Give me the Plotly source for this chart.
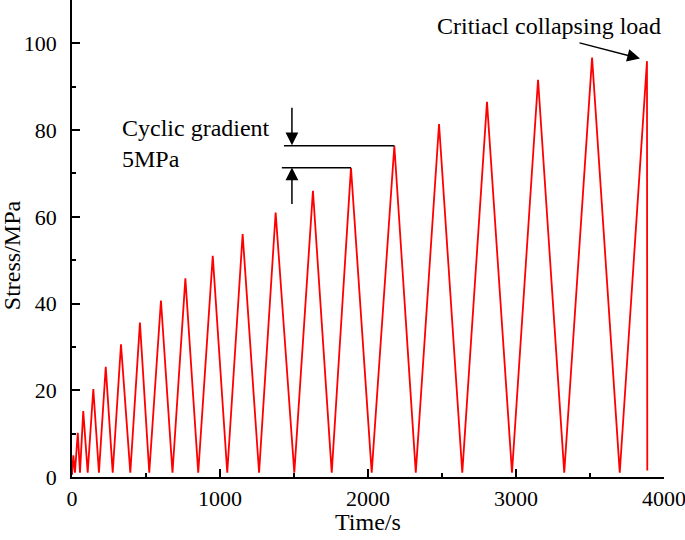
import plotly.graph_objects as go

# Cyclic loading record (time in s, stress in MPa)
times = [0, 9, 20, 39, 54, 76, 106, 144, 182, 228, 275, 331, 394, 459, 522, 601,
         679, 766, 853, 951, 1049, 1153, 1264, 1376, 1502, 1628, 1755, 1885, 2025,
         2178, 2323, 2480, 2637, 2804, 2973, 3149, 3326, 3514, 3701, 3885, 3887]
stress = [0.5, 5.0, 1.0, 10.2, 1.0, 15.2, 1.0, 20.3, 1.0, 25.4, 1.0, 30.6, 1.0,
          35.6, 1.0, 40.7, 1.0, 45.8, 1.0, 51.0, 1.0, 56.0, 1.0, 61.0, 1.0, 66.0,
          1.0, 71.3, 1.0, 76.4, 1.0, 81.4, 1.0, 86.5, 1.0, 91.6, 1.0, 96.7, 1.0,
          95.9, 1.5]

x_ticks = [0, 1000, 2000, 3000, 4000]
y_ticks = [0, 20, 40, 60, 80, 100]

FONT = "Liberation Serif, Times New Roman, serif"

fig = go.Figure()
fig.add_trace(go.Scatter(x=times, y=stress, mode="lines",
                         line=dict(color="#ff0000", width=1.8),
                         showlegend=False, hoverinfo="skip"))

# peaks used for the "cyclic gradient" marker
i_low, i_high, i_last = 27, 29, 39
t_low, s_low = times[i_low], stress[i_low]
t_high, s_high = times[i_high], stress[i_high]
t_mark = 1486

shapes = [
    dict(type="line", xref="x", yref="y", x0=1432, x1=t_high, y0=s_high, y1=s_high,
         line=dict(color="black", width=1.5)),
    dict(type="line", xref="x", yref="y", x0=1418, x1=t_low, y0=s_low, y1=s_low,
         line=dict(color="black", width=1.5)),
]

arrow_style = dict(text="", showarrow=True, arrowhead=2, arrowsize=1.7,
                   arrowwidth=1.5, arrowcolor="black",
                   xref="x", yref="y", axref="x", ayref="y")

annotations = [
    dict(x=t_mark, y=s_high + 0.1, ax=t_mark, ay=s_high + 9.1, **arrow_style),
    dict(x=t_mark, y=s_low + 0.1, ax=t_mark, ay=s_low - 8.7, **arrow_style),
    dict(x=times[i_last] - 47, y=stress[i_last] + 0.6, ax=3419, ay=100.2, **arrow_style),
    dict(x=324, y=77.0, xref="x", yref="y", text="Cyclic gradient<br>5MPa",
         showarrow=False, xanchor="left", yanchor="middle", align="left",
         font=dict(family=FONT, size=24, color="black")),
    dict(x=3223, y=104.1, xref="x", yref="y", text="Critiacl collapsing load",
         showarrow=False, xanchor="center", yanchor="middle",
         font=dict(family=FONT, size=24, color="black")),
    # axis titles
    dict(x=0.5, y=0, xref="paper", yref="paper", text="Time/s", showarrow=False,
         xanchor="center", yanchor="middle", yshift=-45,
         font=dict(family=FONT, size=24, color="black")),
    dict(x=0, y=0.465, xref="paper", yref="paper", text="Stress/MPa", showarrow=False,
         xanchor="center", yanchor="middle", xshift=-60, textangle=-90,
         font=dict(family=FONT, size=24, color="black")),
]

axis_common = dict(showline=True, linecolor="black", linewidth=1.5, showgrid=False,
                   zeroline=False, ticks="inside", ticklen=8, tickwidth=1.5,
                   tickcolor="black", mirror=False, automargin=False,
                   ticklabeloverflow="allow",
                   tickfont=dict(family=FONT, size=22, color="black"))

fig.update_layout(
    width=685, height=540,
    margin=dict(l=72, r=21, t=0, b=63, autoexpand=False),
    paper_bgcolor="white", plot_bgcolor="white",
    shapes=shapes, annotations=annotations,
    xaxis=dict(range=[0, 4000], tickvals=x_ticks, ticktext=[str(v) for v in x_ticks],
               minor=dict(dtick=500, ticks="inside", ticklen=4, tickcolor="black", tickwidth=1.5),
               ticklabelstandoff=1,
               **axis_common),
    yaxis=dict(range=[0, 110], tickvals=y_ticks, ticktext=[str(v) for v in y_ticks],
               minor=dict(dtick=10, ticks="inside", ticklen=4, tickcolor="black", tickwidth=1.5),
               ticklabelstandoff=9,
               **axis_common),
)

fig.write_html("out.html", config={"displayModeBar": False},
               post_script="document.body.style.margin='0px';")
